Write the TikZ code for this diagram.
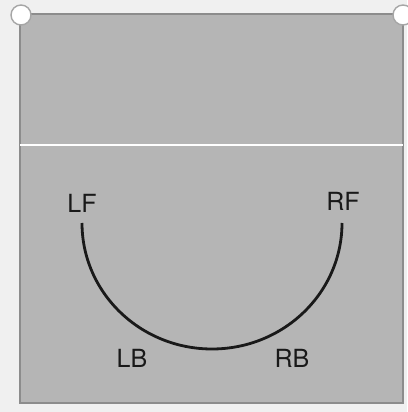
\documentclass[tikz,border=0pt]{standalone}
\usepackage{fontspec}
\setmainfont{TeX Gyre Heros}
\usetikzlibrary{positioning}

\begin{document}
\begin{tikzpicture}[x=1pt,y=1pt]
	\tikzset{
		court/.style={draw=black!45, line width=1.5pt, fill=black!29},
		post/.style={circle, draw=black!35, line width=1.4pt, fill=white, minimum size=20pt, inner sep=0pt},
		poslabel/.style={font=\fontsize{25}{30}\selectfont, text=black!90, inner sep=0pt},
		runpath/.style={line width=2.8pt, black!90}
	}
	\fill[black!6] (0,0) rectangle (407,412);
	\useasboundingbox (0,0) rectangle (407,412);
	\draw[court] (20,9) rectangle (403,398);
	\draw[white, line width=1.5pt] (20,267) -- (403,267);
	\foreach \x in {21,403} {
		\node[post] (post\x) at (\x,397) {};
	}
	\node[poslabel] (lf) at (82,209) {LF};
	\node[poslabel] (rf) at (343,211) {RF};
	\node[poslabel] (lb) at (132,54) {LB};
	\node[poslabel] (rb) at (292,54) {RB};
	\coordinate (lfend) at (82,189);
	\coordinate (rfend) at (342,189);
	\draw[runpath] (lfend) arc[start angle=180, end angle=360, x radius=130, y radius=126];
\end{tikzpicture}
\end{document}
